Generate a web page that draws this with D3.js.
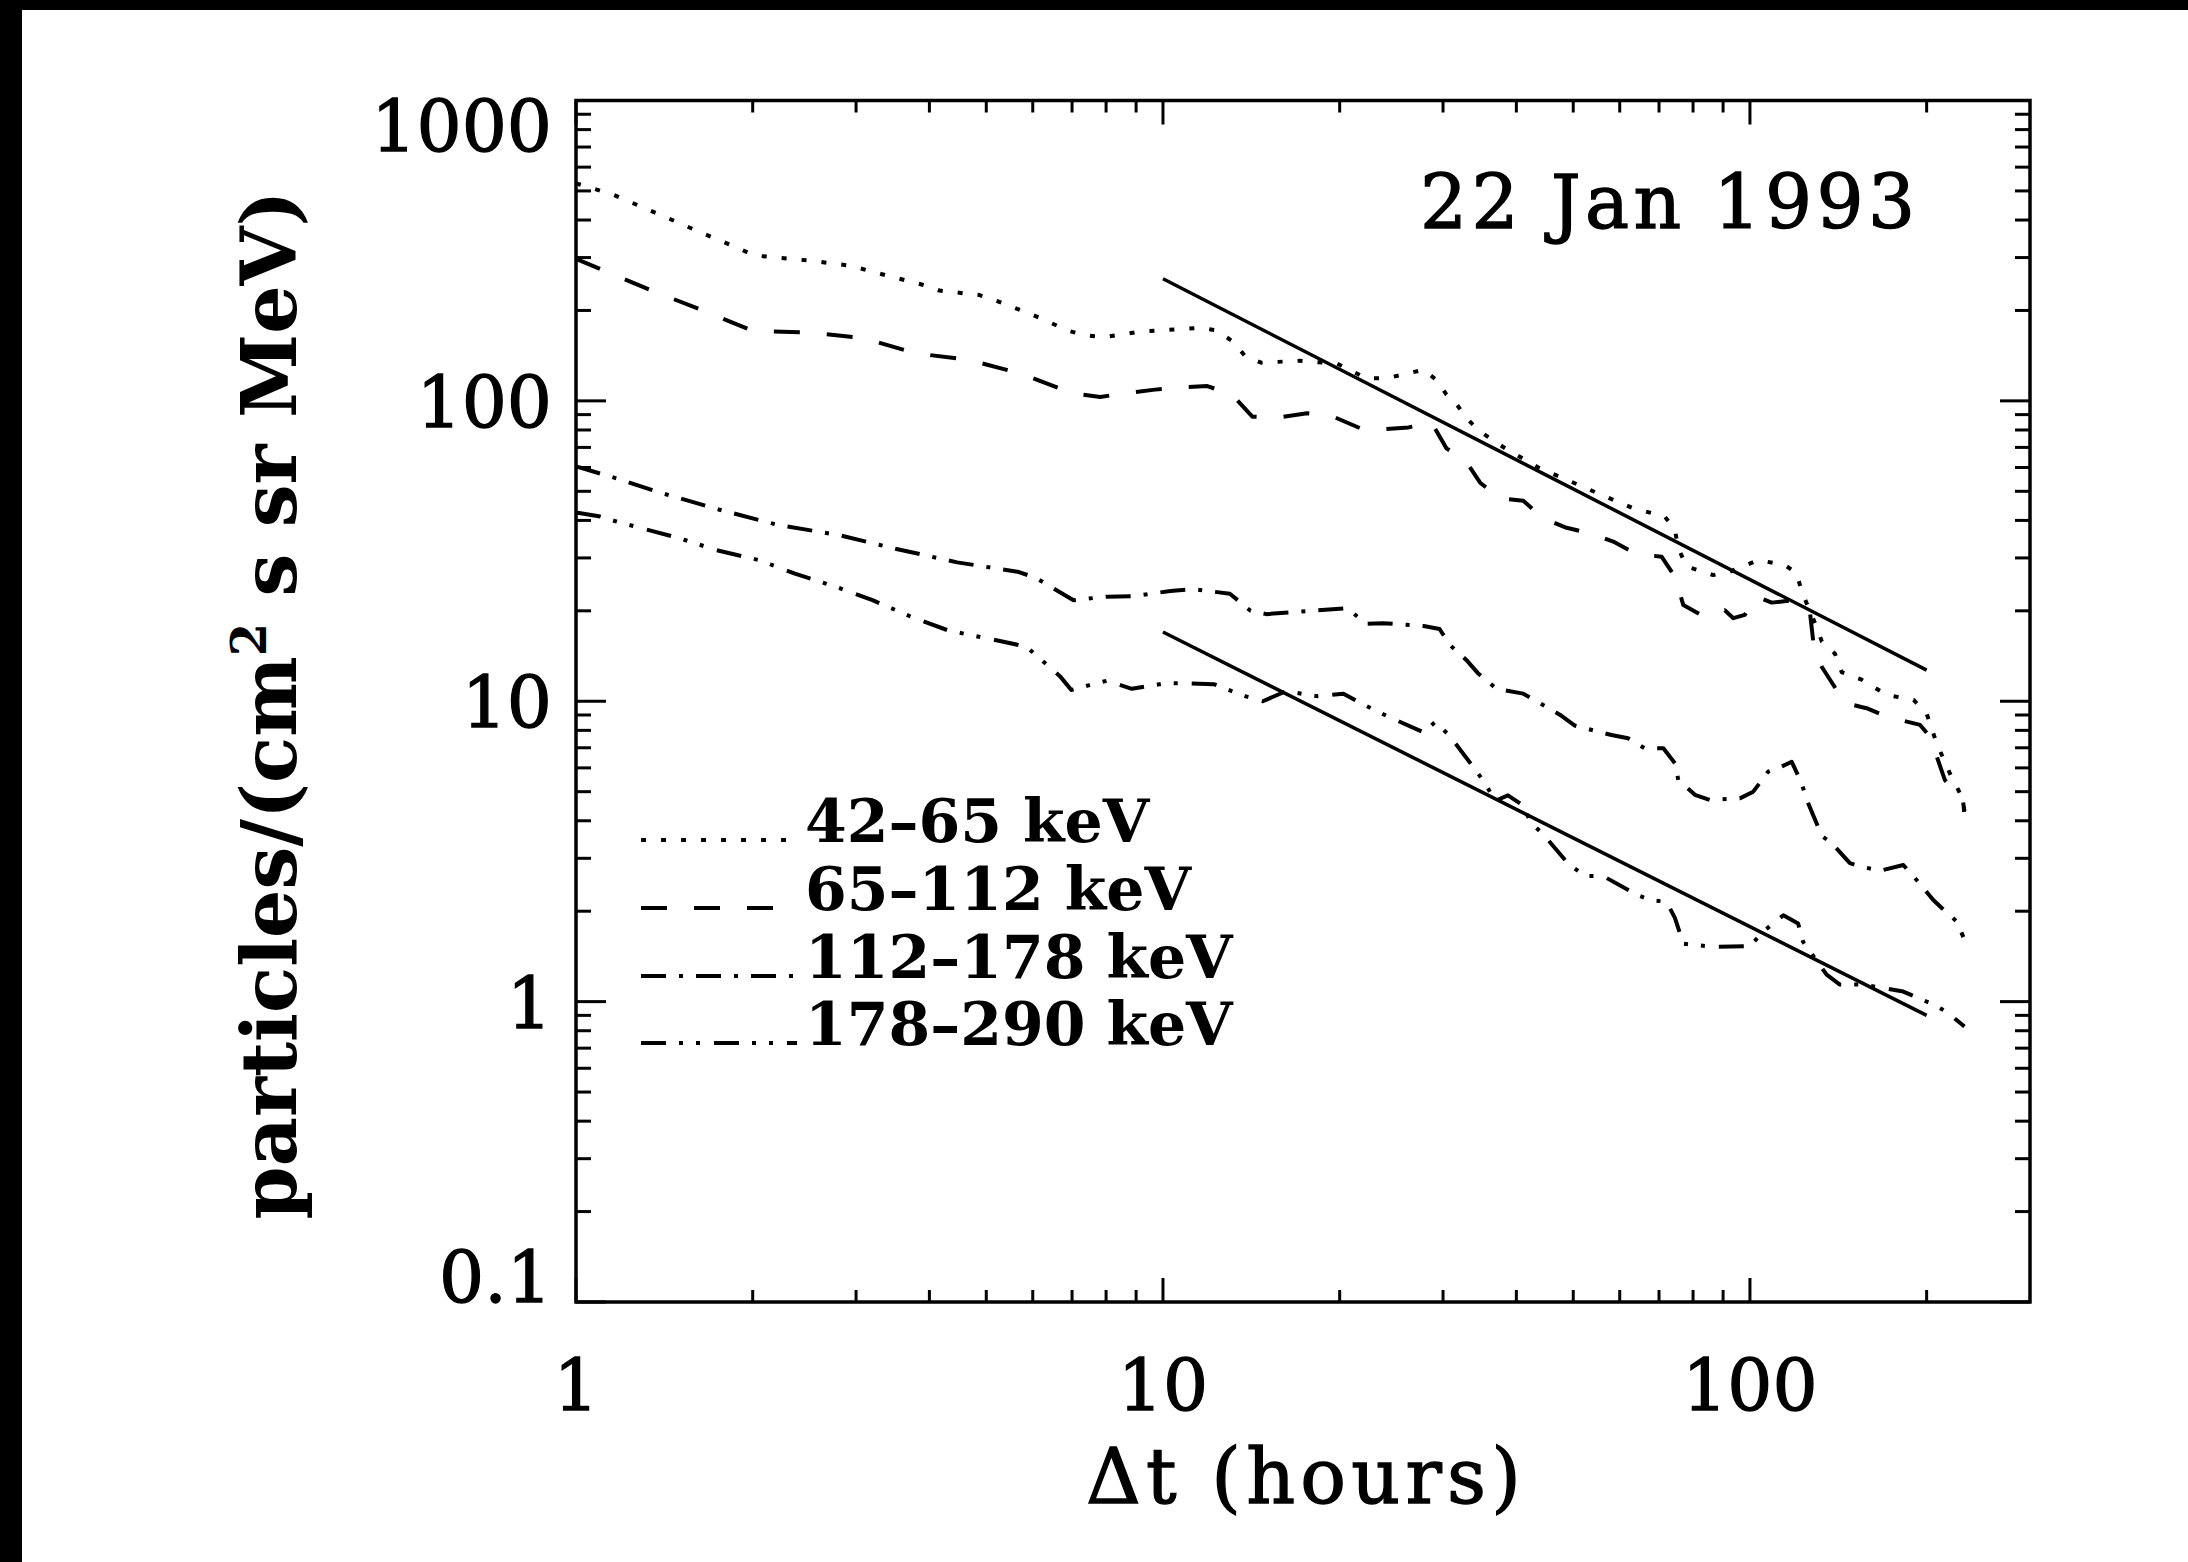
<!DOCTYPE html>
<html><head><meta charset="utf-8">
<script src="https://cdn.jsdelivr.net/npm/d3@7"></script>
<style>html,body{margin:0;padding:0;background:#fff;} svg{display:block}</style>
</head><body>
<svg id="c" width="2188" height="1562"></svg>
<script>
// ---------- data (Δt in hours, flux in particles/(cm² s sr MeV)) ----------
const seriesLabels = ["42–65 keV", "65–112 keV", "112–178 keV", "178–290 keV"];

const flux42_65 = [[1.0,530],[1.16,485],[1.33,432],[1.43,407],[1.64,362],[1.88,324],[2.01,305],[2.5,293],[2.93,282],[3.37,262],[3.88,244],[4.16,233],[4.87,225],[5.22,215],[6.01,193],[6.91,171],[7.42,165],[7.95,163],[9.15,170],[10.0,172],[11.5,175],[12.3,172],[13.2,157],[13.8,141],[14.7,134],[17.1,136],[19.8,133],[22.2,119],[24.1,119],[27.8,127],[29.3,117],[30.4,105],[31.7,97],[32.9,87.5],[34.7,79],[38.5,69],[43.6,60],[49.4,54],[55.9,48.6],[63.3,43.9],[71.6,41.2],[74.5,37.2],[75.5,32.3],[78,28.1],[86.6,26.3],[92.4,27],[103.3,29.5],[114.7,28.4],[120.1,26.7],[122.5,23.2],[129.1,18.2],[132.6,15.8],[139.6,14.4],[143.3,12.5],[155,11.8],[171,10.5],[190,10.1],[200,9.1],[208,7.25],[219,5.76],[231,4.69],[232,4.08]];

const flux65_112 = [[1.0,297],[1.345,233],[1.645,200],[2.0,171],[2.5,169],[3.08,162],[3.79,144],[4.66,137],[5.75,123],[7.01,106],[7.82,103],[8.6,106],[9.69,109],[10.7,111],[11.9,112],[13.1,105],[14.2,88.6],[15.7,88],[17.6,90.9],[19.4,89],[21.9,80.4],[23.4,80.4],[26.2,81.6],[28.7,84.6],[30.4,69.5],[32.7,63.6],[34.7,53.4],[37.5,47.4],[41.1,46.5],[44.5,40.6],[48.7,37.8],[53.7,36.1],[58.5,34],[64.1,30.9],[70.7,30.3],[74.5,26],[77,20.9],[83.3,19.2],[90.6,20.1],[93.7,18.9],[98,19.4],[102.7,22.3],[108.9,21.3],[118.5,21.7],[126.6,19.6],[128.3,15.6],[132.6,13],[140.5,10.9],[146.2,9.84],[158,9.48],[168.7,9.0],[180,8.67],[194.9,8.34],[202.6,7.62],[214.8,5.47],[230.7,4.63],[232,4.3]];

const flux112_178 = [[1.0,60.5],[1.18,55],[1.39,49.5],[1.75,43.5],[2.2,38.7],[2.81,35.7],[3.5,32.2],[4.46,29],[5.65,27],[6.06,25.8],[7.04,21.7],[8.02,22.3],[8.96,22.4],[10.3,23.3],[11.3,23.6],[13,22.8],[14.1,20],[15,19.5],[17.8,20],[20.6,20.4],[22.2,18.1],[23.7,18.2],[27.8,17.8],[29.6,17.4],[30.8,15.4],[32.9,13.7],[34.4,12.4],[37,11],[41.1,10.6],[47.5,9.0],[50.3,8.3],[58.1,7.72],[62,7.53],[66.2,6.97],[71.2,6.97],[74.5,6.22],[75.5,5.47],[80.6,4.88],[85.4,4.69],[96.1,4.75],[101.3,5.0],[107.4,5.83],[113.2,6.06],[117.8,6.29],[122.5,5.33],[125,4.69],[132.6,3.56],[137.8,3.37],[148,2.89],[155,2.81],[167,2.73],[182.5,2.85],[192.3,2.54],[205.3,2.18],[212.2,2.05],[225,1.85],[231,1.64]];

const flux178_290 = [[1.0,42.5],[1.1,41.2],[1.18,39.5],[1.5,34.9],[1.73,31.9],[2.05,29.5],[2.36,26.6],[2.78,24],[3.2,21.7],[3.75,19],[4.31,17.2],[5.09,16.1],[5.85,15.2],[6.68,12.1],[6.98,10.9],[7.47,11.3],[8.02,11.7],[8.85,11.0],[10.15,11.5],[12.2,11.4],[13.8,10.4],[14.8,10.0],[16.2,10.8],[18.3,10.4],[20.3,10.6],[21.9,9.77],[24.4,8.82],[27.8,7.88],[29.1,8.54],[30.8,7.67],[34,5.94],[35.4,5.33],[36.8,4.66],[38.7,4.86],[40.8,4.54],[42.5,3.92],[44.7,3.56],[49.0,2.88],[52.4,2.62],[56.2,2.62],[64.1,2.27],[67.5,2.18],[72.1,2.15],[74.5,1.9],[77,1.56],[86.6,1.52],[100,1.53],[105.3,1.71],[114,1.94],[120.8,1.82],[123.2,1.58],[135.1,1.23],[142.3,1.14],[156,1.14],[182.5,1.08],[202.6,0.99],[216,0.927],[232,0.826]];

const fitHigh = [[10,255],[200,12.7]];
const fitLow  = [[10,17.0],[200,0.90]];

const xTickValues = [1, 10, 100];
const xTickLabels = ["1", "10", "100"];
const yTickValues = [0.1, 1, 10, 100, 1000];
const yTickLabels = ["0.1", "1", "10", "100", "1000"];
const annotation = "22 Jan 1993";
const xTitle = "Δt (hours)";

// ---------- layout ----------
const W = 2188, H = 1562;
const P = {left: 576, right: 2030, top: 100.5, bottom: 1302};
const FONT = "DejaVu Serif";
const svg = d3.select("#c");

const x = d3.scaleLog().domain([1, 300]).range([P.left, P.right]);
const y = d3.scaleLog().domain([0.1, 1000]).range([P.bottom, P.top]);

svg.append("rect").attr("width", W).attr("height", H).attr("fill", "#fff");
// black scan borders
svg.append("rect").attr("x", 0).attr("y", 0).attr("width", 22).attr("height", H).attr("fill", "#000");
svg.append("rect").attr("x", 0).attr("y", 0).attr("width", W).attr("height", 10).attr("fill", "#000");

// ---------- ticks ----------
const tickG = svg.append("g").attr("stroke", "#000").attr("stroke-width", 3);
const xMinor = [];
[1, 10, 100].forEach(d => { for (let k = 2; k <= 9; k++) { const v = d * k; if (v < 300) xMinor.push(v); } });
const yMinor = [];
[0.1, 1, 10, 100].forEach(d => { for (let k = 2; k <= 9; k++) yMinor.push(d * k); });

function xTick(v, len) {
  tickG.append("line").attr("x1", x(v)).attr("x2", x(v)).attr("y1", P.bottom).attr("y2", P.bottom - len);
  tickG.append("line").attr("x1", x(v)).attr("x2", x(v)).attr("y1", P.top).attr("y2", P.top + len);
}
function yTick(v, len) {
  tickG.append("line").attr("y1", y(v)).attr("y2", y(v)).attr("x1", P.left).attr("x2", P.left + len);
  tickG.append("line").attr("y1", y(v)).attr("y2", y(v)).attr("x1", P.right).attr("x2", P.right - len);
}
xTickValues.forEach(v => xTick(v, 24));
xMinor.forEach(v => xTick(v, 12));
yTickValues.forEach(v => yTick(v, 30));
yMinor.forEach(v => yTick(v, 15));

// frame
svg.append("rect").attr("x", P.left).attr("y", P.top)
  .attr("width", P.right - P.left).attr("height", P.bottom - P.top)
  .attr("fill", "none").attr("stroke", "#000").attr("stroke-width", 3.5);

// helper: slightly heavier glyphs (the original uses a heavy vector font)
function heavy(sel, w) { return sel.attr("stroke", "#000").attr("stroke-width", w).attr("paint-order", "stroke"); }

// tick labels
heavy(svg.append("g"), 1.3).selectAll("text").data(xTickValues).join("text")
  .attr("x", d => x(d)).attr("y", 1410)
  .attr("text-anchor", "middle").attr("font-family", FONT).attr("font-size", 71)
  .text((d, i) => xTickLabels[i]);

heavy(svg.append("g"), 1.3).selectAll("text").data(yTickValues).join("text")
  .attr("x", P.left - 24)
  .attr("y", d => Math.min(Math.max(y(d) + 26, P.top + 50), P.bottom))
  .attr("text-anchor", "end").attr("font-family", FONT).attr("font-size", 71)
  .text((d, i) => yTickLabels[i]);

// ---------- lines ----------
const line = d3.line().x(d => x(d[0])).y(d => y(d[1]));
const styles = ["5 15", "26 27", "25 13 4 13", "25 13 4 13 4 14"];
const allSeries = [flux42_65, flux65_112, flux112_178, flux178_290];
const dataG = svg.append("g").attr("fill", "none").attr("stroke", "#000");
allSeries.forEach((s, i) => {
  dataG.append("path").attr("d", line(s)).attr("stroke-width", 4)
    .attr("stroke-dasharray", styles[i]).attr("stroke-linejoin", "round");
});
[fitHigh, fitLow].forEach(f => {
  dataG.append("path").attr("d", line(f)).attr("stroke-width", 3.5);
});

// ---------- legend ----------
const legY = [842, 910, 978, 1045];
const legG = svg.append("g");
seriesLabels.forEach((lab, i) => {
  legG.append("line").attr("x1", 641).attr("x2", 797).attr("y1", legY[i] - 2).attr("y2", legY[i] - 2)
    .attr("stroke", "#000").attr("stroke-width", 4).attr("stroke-dasharray", styles[i]);
  legG.append("text").attr("x", 805).attr("y", legY[i])
    .attr("font-family", FONT).attr("font-weight", "bold").attr("font-size", 60)
    .text(lab);
});

// ---------- annotation & titles ----------
heavy(svg.append("text"), 1.3).attr("x", 1420).attr("y", 228)
  .attr("font-family", FONT).attr("font-size", 74)
  .attr("textLength", 495).attr("lengthAdjust", "spacing")
  .text(annotation);

heavy(svg.append("text"), 1.3).attr("x", 1086).attr("y", 1503)
  .attr("font-family", FONT).attr("font-size", 76)
  .attr("textLength", 435).attr("lengthAdjust", "spacing")
  .text(xTitle);

const yt = svg.append("text").attr("transform", "translate(296,705) rotate(-90)")
  .attr("text-anchor", "middle").attr("font-family", FONT).attr("font-weight", "bold").attr("font-size", 76);
yt.append("tspan").text("particles/(cm");
yt.append("tspan").attr("font-size", 48).attr("dy", -30).text("2");
yt.append("tspan").attr("dy", 30).text(" s sr MeV)");
// spread letters to match the original width
const natural = yt.node().getComputedTextLength();
const target = 1016;
const nChars = "particles/(cm2 s sr MeV)".length;
if (natural < target) yt.attr("letter-spacing", (target - natural) / nChars);
</script>
</body></html>
